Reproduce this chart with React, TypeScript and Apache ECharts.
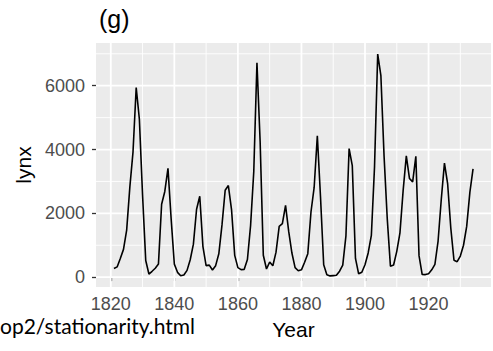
import React, { useEffect, useRef } from "react";
import * as echarts from "echarts";

const startYear = 1821;
const lynx = [
  269, 321, 585, 871, 1475, 2821, 3928, 5943, 4950, 2577, 523, 98, 184, 279, 409,
  2285, 2685, 3409, 1824, 409, 151, 45, 68, 213, 546, 1033, 2129, 2536, 957, 361,
  377, 225, 360, 731, 1638, 2725, 2871, 2119, 684, 299, 236, 245, 552, 1623, 3311,
  6721, 4254, 687, 255, 473, 358, 784, 1594, 1676, 2251, 1426, 756, 299, 201, 229,
  469, 736, 2042, 2811, 4431, 2511, 389, 73, 39, 49, 59, 188, 377, 1292, 4031,
  3495, 587, 105, 153, 387, 758, 1307, 3465, 6991, 6313, 3794, 1836, 345, 382, 808,
  1388, 2713, 3800, 3091, 2985, 3790, 674, 81, 80, 108, 229, 399, 1132, 2432, 3574,
  2935, 1537, 529, 485, 662, 1000, 1590, 2657, 3396,
];
const xMajor = [1820, 1840, 1860, 1880, 1900, 1920];
const xMinor = [1830, 1850, 1870, 1890, 1910, 1930];
const yMajor = [0, 2000, 4000, 6000];
const yMinor = [1000, 3000, 5000, 7000];

const FONT = "Liberation Sans";

export default function App() {
  const ref = useRef<HTMLDivElement>(null);
  useEffect(() => {
    if (!ref.current) return;
    const chart = echarts.init(ref.current, null, { renderer: "svg" });
    const data = lynx.map((v, i) => [startYear + i, v]);
    const lastYear = startYear + lynx.length - 1;
    const xr = lastYear - startYear;
    const xMin = startYear - xr * 0.05;
    const xMax = lastYear + xr * 0.05;
    const yLo = Math.min(...lynx);
    const yHi = Math.max(...lynx);
    const yr = yHi - yLo;
    const yMin = yLo - yr * 0.05;
    const yMax = yHi + yr * 0.05;
    const plain = (v: number) => String(Math.round(v));

    // rows: [x, y, orientation (0 vertical, 1 horizontal), width]
    const gridRows: number[][] = [
      ...xMinor.map((v) => [v, 0, 0, 0.9]),
      ...yMinor.map((v) => [xMin, v, 1, 0.9]),
      ...xMajor.map((v) => [v, 0, 0, 1.8]),
      ...yMajor.map((v) => [xMin, v, 1, 1.8]),
    ];

    chart.setOption({
      animation: false,
      title: {
        text: "(g)",
        left: 94,
        top: 1,
        textStyle: { fontFamily: FONT, fontSize: 25, fontWeight: "normal", color: "#000" },
      },
      grid: {
        left: 96,
        right: 2,
        top: 43,
        bottom: 64,
        show: true,
        backgroundColor: "#EBEBEB",
        borderWidth: 0,
      },
      xAxis: {
        type: "value",
        min: xMin,
        max: xMax,
        name: "Year",
        nameLocation: "middle",
        nameGap: 32,
        nameTextStyle: { fontFamily: FONT, fontSize: 21, color: "#000" },
        axisLine: { show: false },
        splitLine: { show: false },
        axisTick: { show: true, length: 4, customValues: xMajor, lineStyle: { color: "#333", width: 1.3 } },
        axisLabel: { customValues: xMajor, formatter: plain, margin: 8, fontFamily: FONT, fontSize: 18, color: "#4D4D4D" },
      },
      yAxis: {
        type: "value",
        min: yMin,
        max: yMax,
        name: "lynx",
        nameLocation: "middle",
        nameGap: 62,
        nameTextStyle: { fontFamily: FONT, fontSize: 21, color: "#000" },
        axisLine: { show: false },
        splitLine: { show: false },
        axisTick: { show: true, length: 4, customValues: yMajor, lineStyle: { color: "#333", width: 1.3 } },
        axisLabel: { customValues: yMajor, formatter: plain, margin: 11, fontFamily: FONT, fontSize: 18, color: "#4D4D4D" },
      },
      graphic: [
        {
          type: "text",
          left: 0,
          top: 315,
          style: { text: "op2/stationarity.html", fontFamily: "Lato", fontSize: 21, fill: "#000" },
        },
      ],
      series: [
        {
          type: "custom",
          data: gridRows,
          encode: { x: 0, y: 1 },
          silent: true,
          z: 1,
          renderItem: (params: any, api: any) => {
            const x = api.value(0);
            const y = api.value(1);
            const horiz = api.value(2) === 1;
            const w = api.value(3);
            const a = horiz ? api.coord([xMin, y]) : api.coord([x, yMin]);
            const b = horiz ? api.coord([xMax, y]) : api.coord([x, yMax]);
            return {
              type: "line",
              shape: { x1: a[0], y1: a[1], x2: b[0], y2: b[1] },
              style: { stroke: "#FFFFFF", lineWidth: w },
            };
          },
        },
        {
          type: "line",
          data,
          z: 3,
          showSymbol: false,
          symbol: "none",
          lineStyle: { color: "#000000", width: 1.6 },
        },
      ],
    });
    return () => chart.dispose();
  }, []);
  return <div ref={ref} style={{ width: 493, height: 351, position: "absolute", left: 0, top: 0 }} />;
}
